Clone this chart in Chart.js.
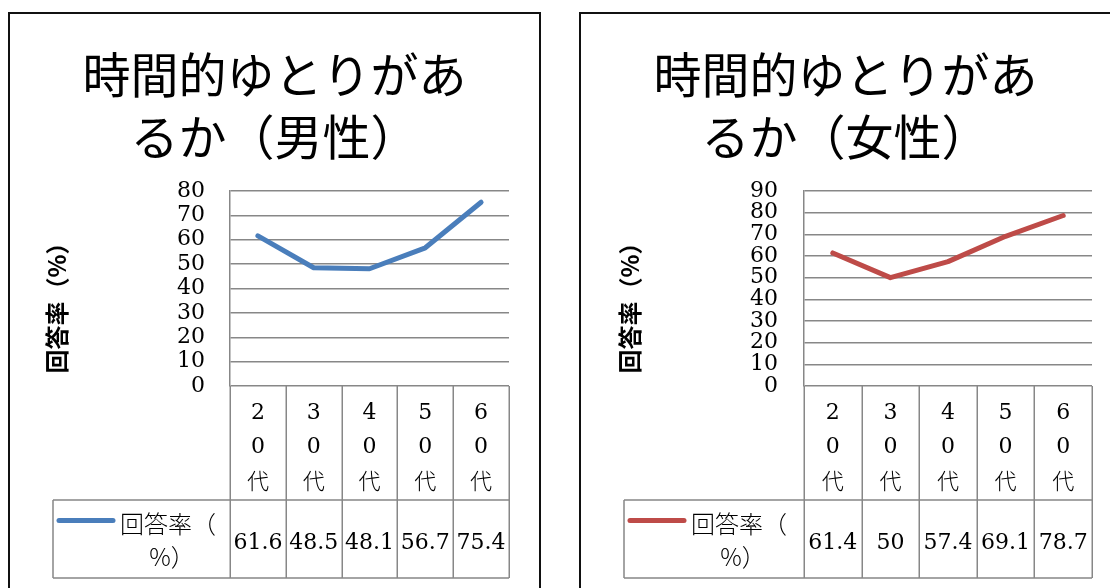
<!DOCTYPE html>
<html>
<head>
<meta charset="utf-8">
<script src="https://cdn.jsdelivr.net/npm/chart.js@4.4.1/dist/chart.umd.min.js"></script>
<style>
  html, body { margin: 0; padding: 0; background: #fff; width: 1110px; height: 588px; overflow: hidden; }
  .box { position: absolute; top: 12px; width: 529px; height: 600px; border: 2px solid #111; background: #fff; }
  .box canvas { position: absolute; left: 0; top: 0; }
</style>
</head>
<body>
<div class="box" style="left:8px"><canvas id="male" width="529" height="576"></canvas></div>
<div class="box" style="left:579px"><canvas id="female" width="529" height="576"></canvas></div>
<script>
// Age groups and response rates (%)
const ageGroups = ['20代', '30代', '40代', '50代', '60代'];
const maleRates = [61.6, 48.5, 48.1, 56.7, 75.4];
const femaleRates = [61.4, 50, 57.4, 69.1, 78.7];
const maleAxisMax = 80;
const femaleAxisMax = 90;
const axisStep = 10;
const seriesName = '回答率（%）';
const legendLines = ['回答率（', '%）'];
const maleTitle = ['時間的ゆとりがあ', 'るか（男性）'];
const femaleTitle = ['時間的ゆとりがあ', 'るか（女性）'];
const axisTitle = '回答率（%）';

const GRID = '#878787';
const JP = '"Noto Sans CJK JP", sans-serif';
const NUM = '"DejaVu Serif", serif';

// Draws the data table under the plot (category row + value row with legend key)
// and the rotated value-axis title.
const dataTablePlugin = {
  id: 'dataTable',
  afterDraw(chart, args, o) {
    const { ctx, chartArea: a, scales: { x } } = chart;
    const ds = chart.data.datasets[0];
    const labels = chart.data.labels;
    const n = labels.length;
    const cw = (x.getPixelForValue(1) - x.getPixelForValue(0));
    const top = a.bottom, mid = a.bottom + o.catHeight, bot = mid + o.valHeight;
    const L = o.legendLeft;

    ctx.save();
    ctx.strokeStyle = GRID;
    ctx.lineWidth = 1.5;
    ctx.beginPath();
    for (let i = 0; i <= n; i++) {
      const xx = Math.round(x.getPixelForValue(0) - cw / 2 + i * cw) + 0.25;
      ctx.moveTo(xx, top); ctx.lineTo(xx, bot);
    }
    ctx.moveTo(L, mid); ctx.lineTo(a.right, mid);
    ctx.moveTo(L, bot); ctx.lineTo(a.right, bot);
    ctx.moveTo(L, mid); ctx.lineTo(L, bot);
    ctx.stroke();

    ctx.fillStyle = '#000';
    ctx.textAlign = 'center';
    ctx.textBaseline = 'middle';
    labels.forEach((lab, i) => {
      const cx = x.getPixelForValue(i);
      [...lab].forEach((ch, k) => {
        ctx.font = /[0-9]/.test(ch) ? '22px ' + NUM : '300 22px ' + JP;
        ctx.fillText(ch, cx, top + 27 + k * 34);
      });
      ctx.font = '22px ' + NUM;
      ctx.fillText(String(ds.data[i]), cx, mid + 43);
    });

    // legend key
    ctx.strokeStyle = ds.borderColor;
    ctx.lineWidth = 5;
    ctx.lineCap = 'round';
    ctx.beginPath();
    ctx.moveTo(L + 6, mid + 20.5); ctx.lineTo(L + 60, mid + 20.5);
    ctx.stroke();
    ctx.font = '300 24px ' + JP;
    ctx.textAlign = 'left';
    ctx.fillText(legendLines[0], L + 67, mid + 24);
    ctx.textAlign = 'center';
    ctx.fillText(legendLines[1], L + 119, mid + 57);

    // value-axis title
    ctx.translate(o.titleX, o.titleY);
    ctx.rotate(-Math.PI / 2);
    ctx.font = 'bold 24px ' + JP;
    ctx.fillText(axisTitle, 0, 0);
    ctx.restore();
  }
};

function makeChart(id, title, values, color, yMax, opt) {
  return new Chart(document.getElementById(id), {
    type: 'line',
    data: {
      labels: ageGroups,
      datasets: [{
        label: seriesName,
        data: values,
        borderColor: color,
        borderWidth: 5,
        borderJoinStyle: 'round',
        borderCapStyle: 'round',
        pointRadius: 0,
        pointHoverRadius: 0,
        tension: 0,
        fill: false
      }]
    },
    options: {
      responsive: false,
      animation: false,
      events: [],
      layout: { padding: { left: 0, right: 0, top: 0, bottom: 12 } },
      plugins: {
        legend: { display: false },
        tooltip: { enabled: false },
        title: {
          display: true,
          text: title,
          color: '#000',
          font: { family: JP, size: 48, weight: 'normal', lineHeight: 62 / 48 },
          padding: { top: 30, bottom: 23 }
        },
        dataTable: {
          catHeight: 114,
          valHeight: 78,
          legendLeft: opt.legendLeft,
          titleX: opt.titleX,
          titleY: 288
        }
      },
      scales: {
        x: {
          type: 'category',
          offset: true,
          grid: { display: false },
          border: { display: false },
          ticks: { display: false },
          afterFit(s) { s.height = 192; }
        },
        y: {
          min: 0,
          max: yMax,
          ticks: {
            stepSize: axisStep,
            autoSkip: false,
            color: '#000',
            font: { family: NUM, size: 22 },
            padding: opt.tickPad
          },
          grid: { color: GRID, lineWidth: 1.5, drawTicks: false },
          border: { display: true, color: GRID, width: 1.5 },
          afterFit(s) { s.width = opt.axisWidth; }
        },
        // empty right-hand margin beside the plot
        gap: {
          type: 'linear',
          position: 'right',
          grid: { display: false },
          border: { display: false },
          ticks: { display: false },
          afterFit(s) { s.width = opt.padRight; }
        }
      }
    },
    plugins: [dataTablePlugin]
  });
}

makeChart('male', maleTitle, maleRates, '#4A7EBB', maleAxisMax,
  { padRight: 30, axisWidth: 220, tickPad: 25, legendLeft: 43, titleX: 47 });
makeChart('female', femaleTitle, femaleRates, '#BE4B48', femaleAxisMax,
  { padRight: 18, axisWidth: 223, tickPad: 26, legendLeft: 43, titleX: 49 });
</script>
</body>
</html>
